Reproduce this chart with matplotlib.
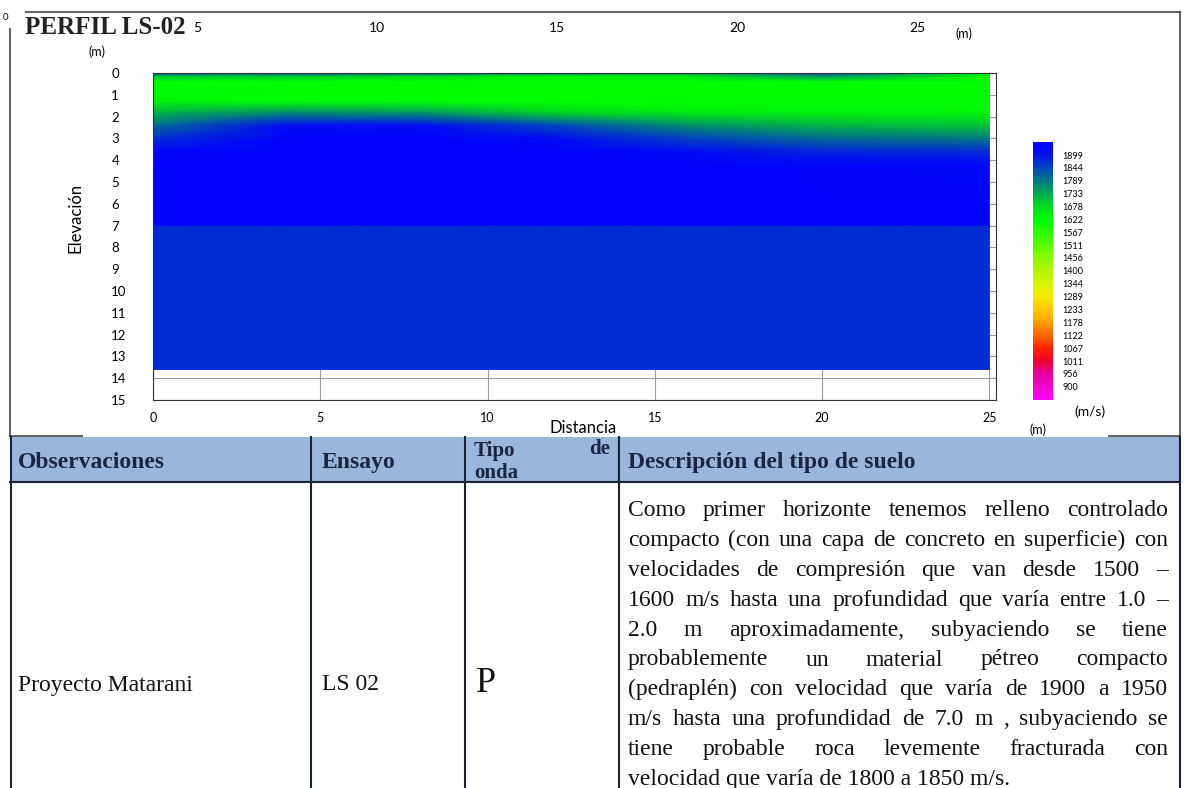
import matplotlib
matplotlib.use('Agg')
import matplotlib.pyplot as plt
import numpy as np
from matplotlib.colors import LinearSegmentedColormap, Normalize
from matplotlib.patches import Rectangle

W, H = 1186, 788

# perfil LS-02 : distancia (m), profundidad (m), velocidad P (m/s)
distancia = [0, 4, 8, 12, 16, 20, 25]
profundidad = [0.0, 0.15, 0.4, 1.3, 1.8, 2.4, 3.0, 3.6, 4.2, 6.95, 7.05, 13.6]
velocidad = [
    [1850, 1850, 1850, 1800, 1760, 1840, 1640],
    [1700, 1700, 1680, 1640, 1660, 1760, 1622],
    [1622, 1622, 1622, 1622, 1622, 1622, 1622],
    [1640, 1622, 1622, 1622, 1622, 1622, 1622],
    [1720, 1760, 1750, 1680, 1650, 1640, 1635],
    [1800, 1920, 1920, 1840, 1760, 1720, 1700],
    [1870, 1950, 1950, 1920, 1850, 1800, 1790],
    [1930, 1950, 1950, 1950, 1920, 1880, 1870],
    [1950, 1950, 1950, 1950, 1950, 1940, 1930],
    [1950, 1950, 1950, 1950, 1950, 1950, 1950],
    [1870, 1870, 1870, 1870, 1870, 1870, 1870],
    [1870, 1870, 1870, 1870, 1870, 1870, 1870],
]

escala = [1899, 1844, 1789, 1733, 1678, 1622, 1567, 1511, 1456, 1400,
          1344, 1289, 1233, 1178, 1122, 1067, 1011, 956, 900]
eje_x = [0, 5, 10, 15, 20, 25]
eje_y = list(range(16))
eje_sup = [5, 10, 15, 20, 25]

# paleta de la escala de velocidades
paleta_v = [844, 956, 1011, 1067, 1122, 1178, 1233, 1289, 1344, 1400,
            1456, 1511, 1567, 1622, 1678, 1733, 1789, 1844, 1899, 1955]
paleta_c = ['#ff00ff', '#e600a0', '#f0002a', '#ff2000', '#ff6400', '#ffa000',
            '#ffc800', '#f5eb00', '#d7f500', '#b4f500', '#8cfa00', '#5afa00',
            '#28ff00', '#00ff00', '#00dc1e', '#00aa50', '#007882', '#0046be',
            '#0014eb', '#0000ff']

# tabla
cabecera = ['Observaciones', 'Ensayo', 'Descripción del tipo de suelo']
fila = ['Proyecto Matarani', 'LS 02', 'P']
descripcion = [
    'Como primer horizonte tenemos relleno controlado',
    'compacto (con una capa de concreto en superficie) con',
    'velocidades de compresión  que van desde  1500 –',
    '1600 m/s hasta una profundidad que varía entre 1.0 –',
    '2.0  m  aproximadamente,  subyaciendo  se  tiene',
    'probablemente  un  material  pétreo  compacto',
    '(pedraplén)  con velocidad que varía  de 1900 a 1950',
    'm/s hasta una profundidad de 7.0 m , subyaciendo se',
    'tiene  probable  roca  levemente  fracturada  con',
    'velocidad que varía de 1800 a 1850 m/s.',
]

plt.rcParams['font.family'] = ['Lato', 'DejaVu Sans']
SERIF = 'Liberation Serif'


def fx(x):
    return x / W


def fy(y):
    return 1 - y / H


fig = plt.figure(figsize=(W / 100, H / 100), dpi=100)

# marco exterior (otro grafico de fondo)
frame = fig.add_axes([fx(10), fy(436), fx(1170), 424 / H], zorder=0)
frame.set_xlim(5 - 187 / 36, 5 - 187 / 36 + 1170 / 36)
frame.set_ylim(0, 1)
frame.set_yticks([])
frame.xaxis.tick_top()
frame.set_xticks(eje_sup)
frame.tick_params(axis='x', direction='in', length=0, pad=-16, labelsize=10)
for s in frame.spines.values():
    s.set_color('#333333')
    s.set_linewidth(1.1)

# fondo blanco del perfil
fig.add_artist(Rectangle((fx(83), fy(437)), fx(1108 - 83), (437 - 40) / H,
                         transform=fig.transFigure, facecolor='white',
                         edgecolor='none', zorder=0.5))
fig.add_artist(Rectangle((0, fy(28)), fx(25), 28 / H, transform=fig.transFigure,
                         facecolor='white', edgecolor='none', zorder=0.5))

# perfil
cmap = LinearSegmentedColormap.from_list(
    'vel', [((v - paleta_v[0]) / (paleta_v[-1] - paleta_v[0]), c)
            for v, c in zip(paleta_v, paleta_c)])
norm = Normalize(vmin=paleta_v[0], vmax=paleta_v[-1])

ax = fig.add_axes([fx(153), fy(400), fx(996 - 153), (400 - 73) / H], zorder=1)
X, Y = np.meshgrid(distancia, profundidad)
mesh = ax.pcolormesh(X, Y, np.array(velocidad), shading='gouraud', cmap=cmap, norm=norm)
ax.set_xlim(0, 25.2)
ax.set_ylim(15, 0)
ax.set_xticks(eje_x)
ax.set_yticks(eje_y)
ax.set_axisbelow(True)
ax.grid(True, color='#9a9a9a', linewidth=0.8)
ax.tick_params(axis='x', length=0, labelsize=9, pad=9)
ax.tick_params(axis='y', length=0, labelsize=9.5, pad=30)
for lab in ax.get_yticklabels():
    lab.set_horizontalalignment('left')
for s in ax.spines.values():
    s.set_color('#333333')
    s.set_linewidth(0.8)

# escala de colores
cax = fig.add_axes([fx(1033), fy(400), fx(20), 258 / H], zorder=1)
cb = fig.colorbar(mesh, cax=cax, ticks=escala)
cb.outline.set_visible(False)
cax.tick_params(length=0, labelsize=6.5, pad=7)

# capa de textos y tabla, en pixeles
lay = fig.add_axes([0, 0, 1, 1], zorder=3)
lay.set_xlim(0, W)
lay.set_ylim(H, 0)
lay.axis('off')

lay.text(25, 27, 'PERFIL LS-02', family=SERIF, fontweight='bold', fontsize=18,
         color='#222222', va='center', ha='left')
lay.text(3, 17, '0', fontsize=7, va='center', ha='left')
lay.text(955, 34, '(m)', fontsize=9, va='center', ha='left')
lay.text(97, 52, '(m)', fontsize=9, va='center', ha='center')
lay.text(75, 218, 'Elevación', fontsize=12, rotation=90, va='center', ha='center')
lay.text(583, 428, 'Distancia', fontsize=12, va='center', ha='center')
lay.text(1038, 430, '(m)', fontsize=9, va='center', ha='center')
lay.text(1090, 412, '(m/s)', fontsize=10, va='center', ha='center')

# tabla
col_x = [11, 311, 465, 619, 1180]
lay.add_patch(Rectangle((10, 437), 1170, 45, facecolor='#9ab6dc', edgecolor='none'))
for x in col_x:
    lay.plot([x, x], [437, H], color='#1c2233', linewidth=1.5)
lay.plot([10, 1180], [482, 482], color='#1c2233', linewidth=1.5)

hk = dict(family=SERIF, fontweight='bold', color='#1b2540', va='center')
lay.text(18, 462, cabecera[0], ha='left', fontsize=17, **hk)
lay.text(322, 462, cabecera[1], ha='left', fontsize=17, **hk)
lay.text(474, 451, 'Tipo', ha='left', fontsize=15, **hk)
lay.text(610, 449, 'de', ha='right', fontsize=15, **hk)
lay.text(474, 473, 'onda', ha='left', fontsize=15, **hk)
lay.text(628, 462, cabecera[2], ha='left', fontsize=17, **hk)

bk = dict(family=SERIF, fontsize=17, color='#111111')
lay.text(18, 685, fila[0], ha='left', va='center', **bk)
lay.text(322, 685, fila[1], ha='left', va='center', **bk)
lay.text(476, 683, fila[2], ha='left', va='center', family=SERIF, fontsize=26, color='#111111')

# texto justificado
renderer = fig.canvas.get_renderer()
x0, x1 = 628, 1168
for i, linea in enumerate(descripcion):
    yb = 516 + i * 29.9
    palabras = linea.split()
    if i == len(descripcion) - 1:
        lay.text(x0, yb, linea, ha='left', va='baseline', **bk)
        continue
    anchos = []
    for p in palabras:
        t = lay.text(0, 0, p, **bk)
        anchos.append(t.get_window_extent(renderer).width)
        t.remove()
    hueco = (x1 - x0 - sum(anchos)) / (len(palabras) - 1)
    x = x0
    for p, a in zip(palabras, anchos):
        lay.text(x, yb, p, ha='left', va='baseline', **bk)
        x += a + hueco

fig.savefig('out.png', dpi=100)
